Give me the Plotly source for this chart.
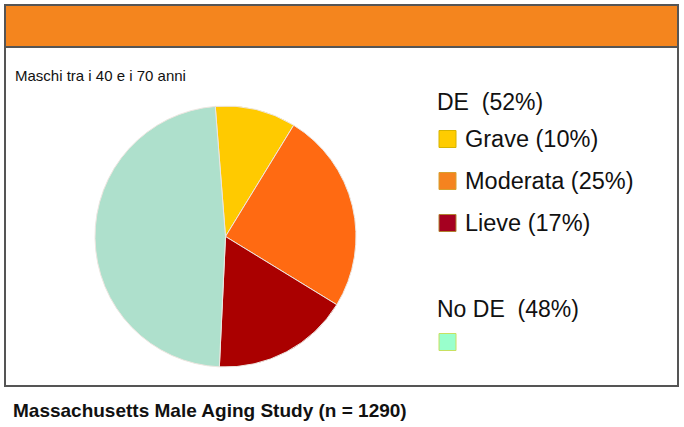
import plotly.graph_objects as go

W, H = 684, 427

# ---- data ----
labels = ["Grave", "Moderata", "Lieve", "No DE"]
values = [10, 25, 17, 48]
groups = ["DE", "DE", "DE", "No DE"]
show_item_label = [True, True, True, False]
group_titles = ["DE", "No DE"]
subtitle = "Maschi tra i 40 e i 70 anni"
footer = "Massachusetts Male Aging Study (n = 1290)"

# ---- style ----
pie_colors = ["#FFCA00", "#FF6A12", "#AA0000", "#AEE0CC"]
legend_colors = ["#FFCC00", "#F5831F", "#A50020", "#99FFCC"]
legend_borders = ["#D6B400", "#D8A030", "#B08030", "#C8E060"]
FONT = "Liberation Sans, Arial, sans-serif"


def px(x):
    return x / W


def py(y):
    return 1 - y / H


fig = go.Figure()
fig.add_trace(go.Pie(
    labels=labels,
    values=values,
    sort=False,
    direction="clockwise",
    rotation=-4.5,
    textinfo="none",
    hoverinfo="label+percent",
    marker=dict(colors=pie_colors, line=dict(color="#EDE6E0", width=1)),
    domain=dict(x=[px(95), px(356)], y=[py(367), py(106)]),
    showlegend=False,
))

shapes = [
    dict(type="rect", xref="paper", yref="paper", x0=px(5), x1=px(678), y0=py(386), y1=py(5),
         fillcolor="white", line=dict(color="#555555", width=2), layer="below"),
    dict(type="rect", xref="paper", yref="paper", x0=px(5), x1=px(678), y0=py(47), y1=py(5),
         fillcolor="#F4851E", line=dict(color="#555555", width=2), layer="below"),
]
annotations = [
    dict(text=subtitle, x=px(13), y=py(76), xref="paper", yref="paper", xanchor="left", yanchor="middle",
         showarrow=False, font=dict(family=FONT, size=15, color="#111111")),
    dict(text="<b>" + footer + "</b>", x=px(11), y=py(410), xref="paper", yref="paper", xanchor="left",
         yanchor="middle", showarrow=False, font=dict(family=FONT, size=19, color="#111111")),
]

title_y = {"DE": 102, "No DE": 309}
item_y = [139, 181, 223, 342]
for g in group_titles:
    pct = sum(v for v, gg in zip(values, groups) if gg == g) * 100 / sum(values)
    annotations.append(dict(text=f"{g}&nbsp; ({pct:.0f}%)", x=px(435), y=py(title_y[g]), xref="paper",
                            yref="paper", xanchor="left", yanchor="middle", showarrow=False,
                            font=dict(family=FONT, size=23, color="#111111")))
for i, (lab, v) in enumerate(zip(labels, values)):
    yc = item_y[i]
    shapes.append(dict(type="rect", xref="paper", yref="paper", x0=px(439), x1=px(456), y0=py(yc + 8.5),
                       y1=py(yc - 8.5), fillcolor=legend_colors[i], line=dict(color=legend_borders[i], width=1)))
    if show_item_label[i]:
        annotations.append(dict(text=f"{lab} ({v * 100 / sum(values):.0f}%)", x=px(463), y=py(yc),
                                xref="paper", yref="paper", xanchor="left", yanchor="middle", showarrow=False,
                                font=dict(family=FONT, size=23.5, color="#111111")))

fig.update_layout(
    width=W, height=H,
    margin=dict(l=0, r=0, t=0, b=0),
    paper_bgcolor="white", plot_bgcolor="white",
    shapes=shapes, annotations=annotations,
)
fig.write_html("out.html", config={"displayModeBar": False},
               post_script="document.body.style.margin='0';")
